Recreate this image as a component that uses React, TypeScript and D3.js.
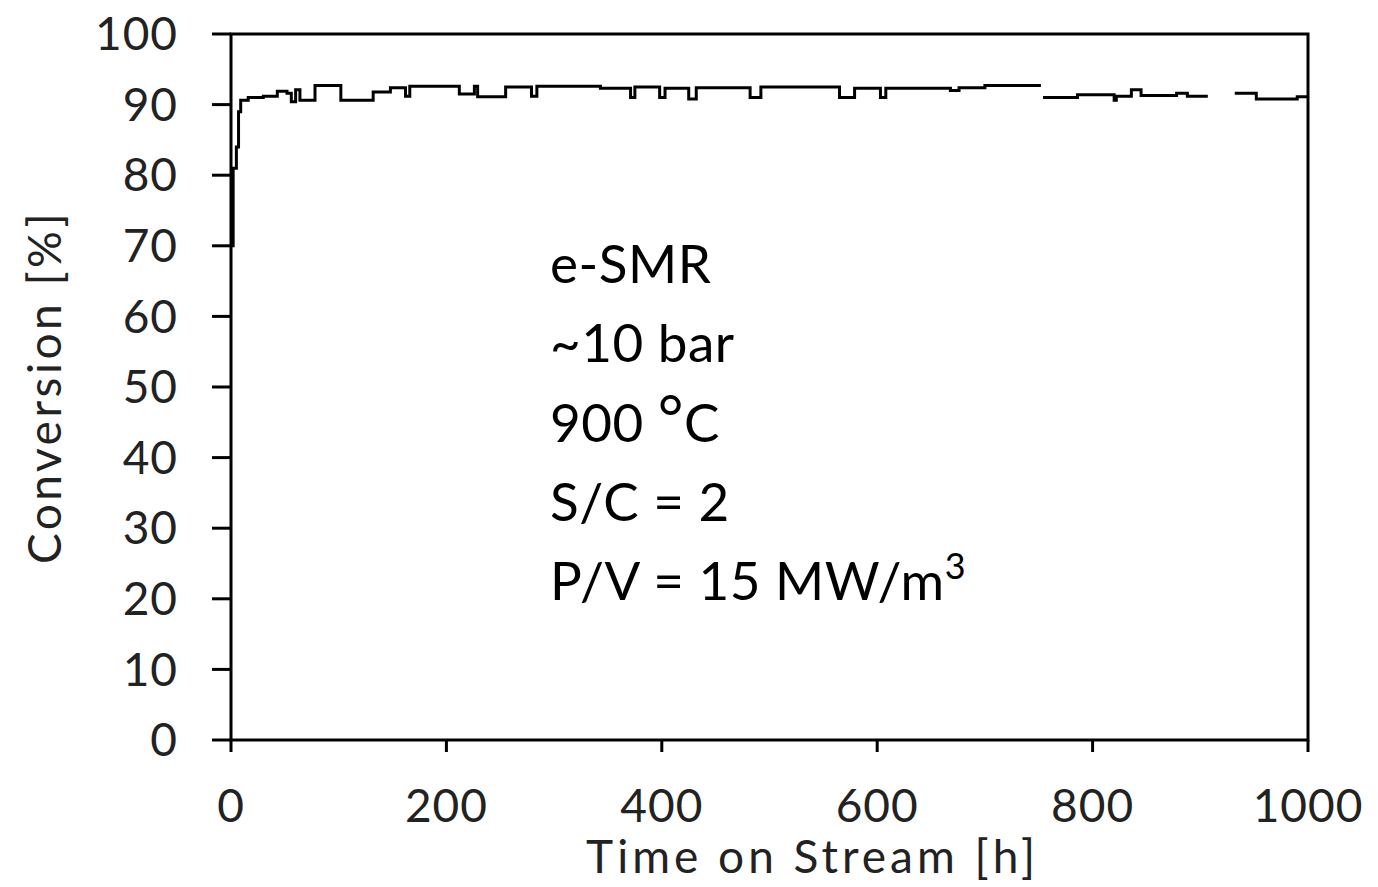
import React from 'react';
import * as d3 from 'd3';

// time on stream [h] and conversion [%]; null marks a gap in logging
const hours = [0, 2, 5, 7, 9, 16, 30, 43, 52, 56, 60, 64, 78, 102, 132, 148, 162, 166, 212, 226, 229, 255, 279, 284, 343, 371, 375, 398, 403, 425, 432, 482, 492, 565, 579, 603, 608, 668, 676, 700, 752, 753,
  754, 786, 820, 822, 836, 845, 878, 888, 907, 920,
  932, 952, 990, 1000];
const conversion = [70, 81, 84, 89, 90.6, 91.0, 91.2, 91.9, 91.6, 90.4, 92.1, 90.6, 92.7, 90.6, 91.8, 92.4, 91.2, 92.6, 91.5, 92.6, 91.1, 92.5, 91.2, 92.6, 92.3, 91.0, 92.5, 91.0, 92.3, 90.8, 92.4, 91.0, 92.5, 91.0, 92.3, 91.0, 92.3, 92.0, 92.4, 92.7, 92.7, null,
  91.0, 91.4, 90.6, 91.2, 92.1, 91.3, 91.6, 91.2, 91.2, null,
  91.6, 90.8, 91.1, 91.1];

const xTicks = [0, 200, 400, 600, 800, 1000];
const yTicks = [0, 10, 20, 30, 40, 50, 60, 70, 80, 90, 100];
const notes = ['e-SMR', '~10 bar', '900 °C', 'S/C = 2', 'P/V = 15 MW/m³'];

export default function App() {
  const width = 1378, height = 887;
  const margin = { top: 34, right: 70, bottom: 147, left: 231 };
  const w = width - margin.left - margin.right;
  const h = height - margin.top - margin.bottom;

  const x = d3.scaleLinear().domain([0, 1000]).range([0, w]);
  const y = d3.scaleLinear().domain([0, 100]).range([h, 0]);

  const data = hours.map((t, i) => ({ t, v: conversion[i] }));
  const line = d3.line<{ t: number; v: number | null }>()
    .defined(d => d.v !== null)
    .x(d => x(d.t))
    .y(d => y(d.v as number))
    .curve(d3.curveStepAfter);

  const tickFont = 'Lato, sans-serif';

  return (
    <svg width={width} height={height} style={{ position: 'absolute', left: 0, top: 0, background: '#fff' }}>
      <g transform={`translate(${margin.left},${margin.top})`}>
        <rect x={0} y={0} width={w} height={h} fill="none" stroke="#000" strokeWidth={3} />
        {yTicks.map(t => (
          <g key={t} transform={`translate(0,${y(t)})`}>
            <line x1={-19} x2={0} stroke="#000" strokeWidth={3} />
            <text x={-53} dy="0.35em" textAnchor="end" fontFamily={tickFont} fontSize={46} letterSpacing={1} fill="#222">{t}</text>
          </g>
        ))}
        {xTicks.map(t => (
          <g key={t} transform={`translate(${x(t)},${h})`}>
            <line y1={0} y2={12} stroke="#000" strokeWidth={3} />
            <text y={82} textAnchor="middle" fontFamily={tickFont} fontSize={46} letterSpacing={1} fill="#222">{t}</text>
          </g>
        ))}
        <path d={line(data) || ''} fill="none" stroke="#000" strokeWidth={3} />
        <text x={x(540)} y={h + 133} textAnchor="middle" fontFamily={tickFont} fontSize={46} letterSpacing={4} fill="#222">Time on Stream [h]</text>
        <text transform={`translate(${-170},${y(50)}) rotate(-90)`} textAnchor="middle" fontFamily={tickFont} fontSize={46} letterSpacing={3.5} fill="#222">Conversion [%]</text>
        {notes.map((n, i) => (
          <text key={n} x={550 - margin.left} y={283 - margin.top + i * 79.3} fontFamily="Lato, sans-serif" fontSize={53} letterSpacing={0.5} fill="#000">
            {n === 'P/V = 15 MW/m³'
              ? <>P/V = 15 MW/m<tspan fontSize={36} dy={-21}>3</tspan></>
              : n === '900 °C'
                ? <>900 <tspan fontSize={62} dy={-2}>°</tspan><tspan dy={2}>C</tspan></>
                : n}
          </text>
        ))}
      </g>
    </svg>
  );
}
